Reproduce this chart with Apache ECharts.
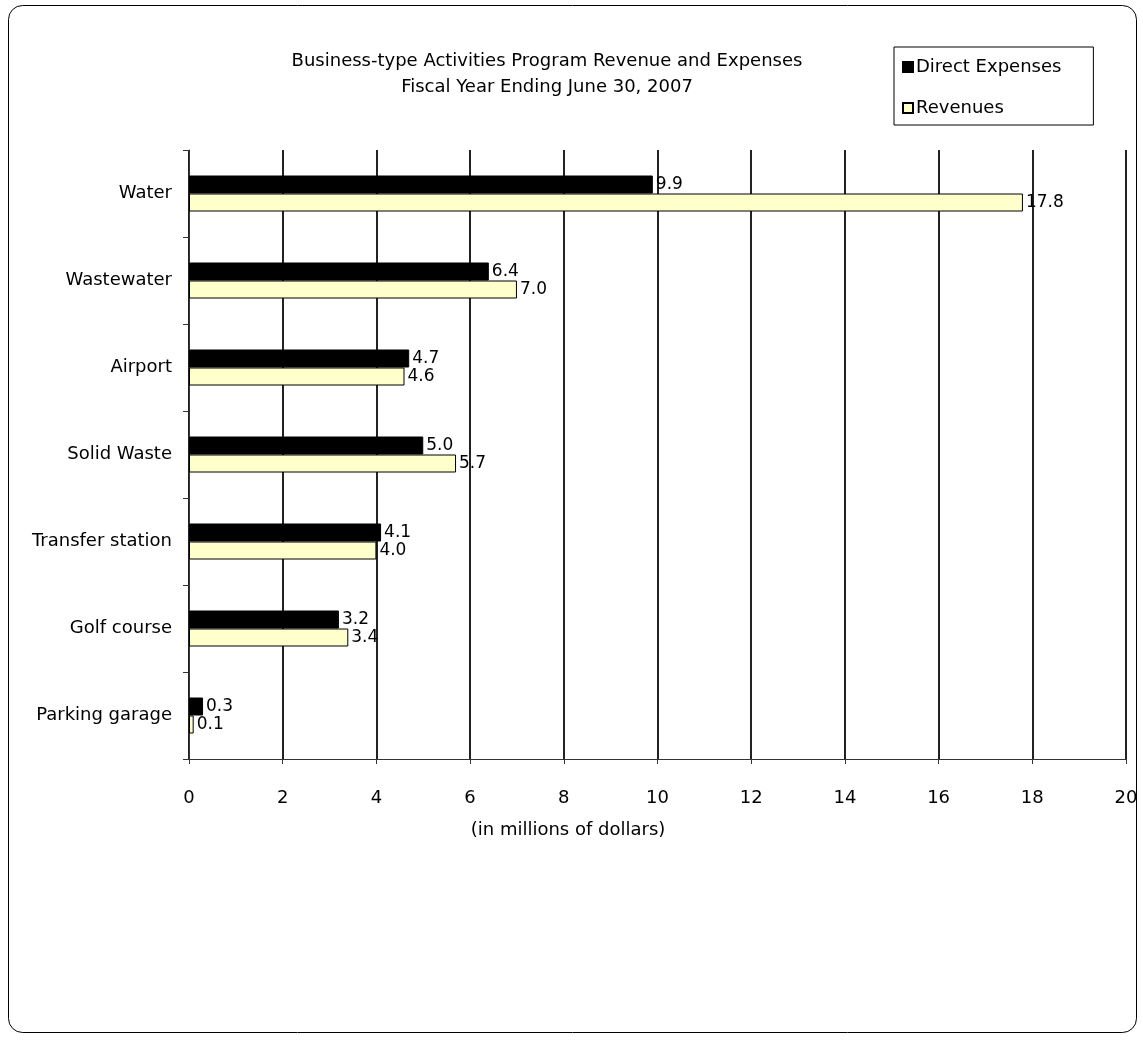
<!DOCTYPE html>
<html>
<head>
<meta charset="utf-8">
<script src="https://cdn.jsdelivr.net/npm/echarts@6/dist/echarts.min.js"></script>
<style>html,body{margin:0;padding:0;background:#fff;}#main{width:1143px;height:1040px;}</style>
</head>
<body>
<div id="main"></div>
<script>
const categories = ['Water', 'Wastewater', 'Airport', 'Solid Waste', 'Transfer station', 'Golf course', 'Parking garage'];
const directExpenses = [9.9, 6.4, 4.7, 5.0, 4.1, 3.2, 0.3];
const revenues = [17.8, 7.0, 4.6, 5.7, 4.0, 3.4, 0.1];
const titleLines = ['Business-type Activities Program Revenue and Expenses', 'Fiscal Year Ending June 30, 2007'];
const axisName = '(in millions of dollars)';

const FONT = 'DejaVu Sans';
const FS = 18;
const chart = echarts.init(document.getElementById('main'));
const lbl = {
  show: true, position: 'right', distance: 3, color: '#000', fontFamily: FONT, fontSize: 17,
  formatter: p => p.value.toFixed(1)
};
chart.setOption({
  animation: false,
  textStyle: { fontFamily: FONT },
  title: {
    text: titleLines.join('\n'),
    left: 542, top: 43, textAlign: 'center',
    textStyle: { fontFamily: FONT, fontSize: FS, fontWeight: 'normal', color: '#000', lineHeight: 26 }
  },
  legend: {
    orient: 'vertical', left: 894, top: 47,
    borderColor: '#000', borderWidth: 1, padding: [11, 32, 8, 8],
    itemGap: 23, itemWidth: 10, itemHeight: 10, icon: 'rect',
    textStyle: { fontFamily: FONT, fontSize: FS, color: '#000', padding: [0, 0, 0, -2] },
    data: ['Direct Expenses', 'Revenues']
  },
  grid: { left: 189, right: 17, top: 150, bottom: 281, containLabel: false },
  xAxis: {
    type: 'value', min: 0, max: 20, interval: 2,
    axisLine: { show: true, lineStyle: { color: '#333', width: 1 } },
    axisTick: { show: true, length: 5, lineStyle: { color: '#333' } },
    axisLabel: { color: '#000', fontSize: FS, fontFamily: FONT, margin: 30 },
    splitLine: { show: true, lineStyle: { color: '#222', width: 2 } }
  },
  yAxis: {
    type: 'category', data: categories, inverse: true,
    axisLine: { show: true, lineStyle: { color: '#333', width: 1 } },
    axisTick: { show: true, length: 6, lineStyle: { color: '#333' } },
    axisLabel: { color: '#000', fontSize: FS, fontFamily: FONT, margin: 17 }
  },
  series: [
    { name: 'Direct Expenses', type: 'bar', data: directExpenses, barWidth: 18, barGap: '0%',
      itemStyle: { color: '#000', borderColor: '#000', borderWidth: 1 }, label: lbl },
    { name: 'Revenues', type: 'bar', data: revenues, barWidth: 18, barGap: '0%',
      itemStyle: { color: '#FFFFCC', borderColor: '#000', borderWidth: 1 }, label: lbl }
  ],
  graphic: [
    { type: 'rect', shape: { x: 8.5, y: 5.5, width: 1128, height: 1027, r: 14 },
      style: { fill: 'none', stroke: '#000', lineWidth: 1 }, silent: true, z: -1 },
    { type: 'text', x: 568, y: 830, style: { text: axisName, fontFamily: FONT, fontSize: FS, fill: '#000', align: 'center', verticalAlign: 'middle' } }
  ]
});
</script>
</body>
</html>
